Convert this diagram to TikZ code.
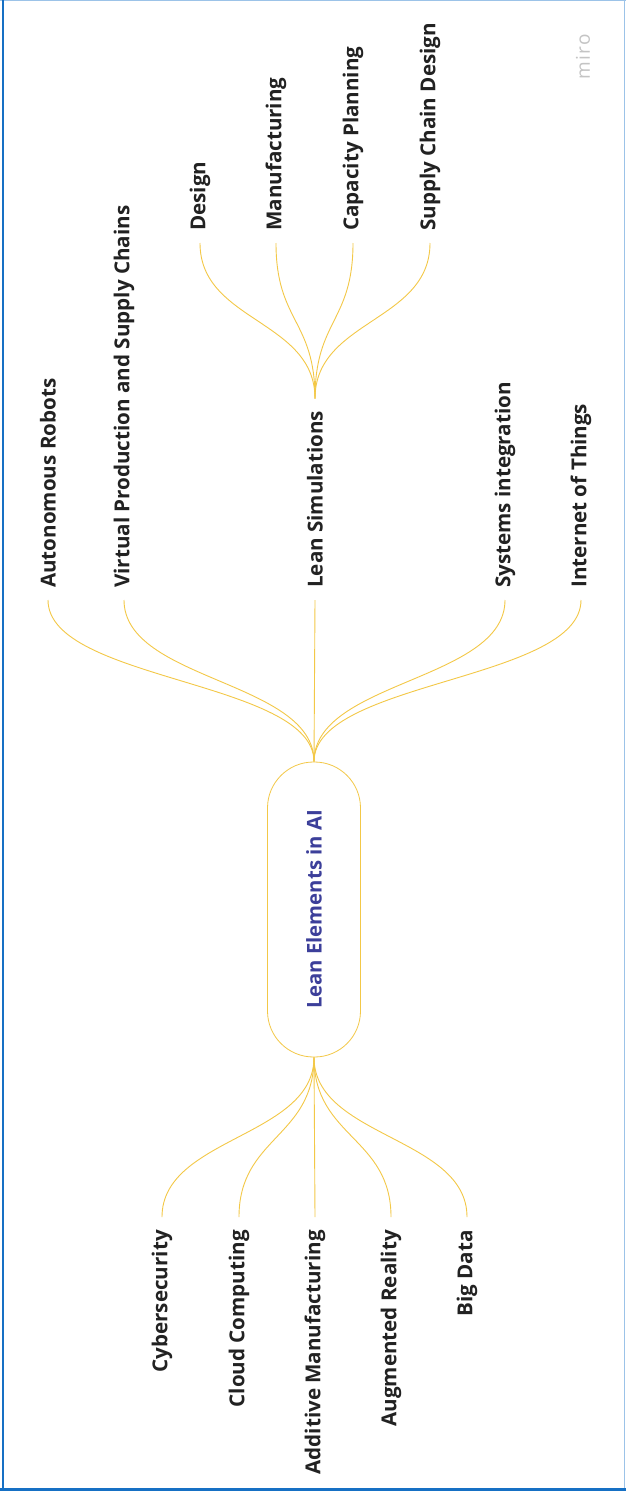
\documentclass[tikz,border=0pt]{standalone}
\usepackage{fontspec}
\setmainfont{Open Sans}
\definecolor{gold}{HTML}{F3C847}
\definecolor{rootblue}{HTML}{3C3F9A}
\definecolor{labelgray}{HTML}{222222}
\definecolor{wmgray}{HTML}{C4C4C4}
\definecolor{framedark}{HTML}{1670C4}
\definecolor{framelight}{HTML}{9CC3E8}
\tikzset{
  conn/.style={draw=gold, line width=0.9pt},
  leafup/.style={rotate=90, anchor=west, inner xsep=12pt, inner ysep=0pt,
    text=labelgray, font=\fontsize{20.6}{24}\selectfont\bfseries},
  leafdown/.style={rotate=90, anchor=east, inner xsep=13pt, inner ysep=0pt,
    text=labelgray, font=\fontsize{20.6}{24}\selectfont\bfseries},
  pill/.style={rotate=90, draw=gold, line width=0.8pt, minimum width=295pt,
    minimum height=93pt, rounded corners=46pt, text=rootblue,
    font=\fontsize{20.3}{24}\selectfont\bfseries, fill=white},
  watermark/.style={rotate=90, text=wmgray, font=\fontsize{19}{22}\selectfont\addfontfeatures{LetterSpace=8}}
}
\begin{document}
\begin{tikzpicture}[x=1pt,y=-1pt]
\useasboundingbox (0,0) rectangle (626,1491);
\fill[white] (0,0) rectangle (626,1491);
% frame
\draw[framelight, line width=1pt] (0,0.5) -- (626,0.5);
\draw[framelight, line width=1.5pt] (624.5,0) -- (624.5,1491);
\draw[framedark, line width=2.6pt] (3,0) -- (3,1491);
\draw[framedark, line width=3pt] (0,1489) -- (626,1489);

% root
\node[pill] (root) at (314,909.5) {Lean Elements in AI};

% top leaves
\node[leafup] (ar)  at (48,600)  {Autonomous Robots};
\node[leafup] (vp)  at (124,600) {Virtual Production and Supply Chains};
\node[leafup] (ls)  at (315,600) {Lean Simulations};
\node[leafup] (si)  at (505,600) {Systems integration};
\node[leafup] (iot) at (581,600) {Internet of Things};

% sub leaves
\node[leafup] (de) at (200,243) {Design};
\node[leafup] (ma) at (276,243) {Manufacturing};
\node[leafup] (cp) at (353,243) {Capacity Planning};
\node[leafup] (sc) at (430,243) {Supply Chain Design};

% bottom leaves
\node[leafdown] (cs) at (162,1217) {Cybersecurity};
\node[leafdown] (cc) at (239,1217) {Cloud Computing};
\node[leafdown] (am) at (315,1217) {Additive Manufacturing};
\node[leafdown] (aug) at (391,1217) {Augmented Reality};
\node[leafdown] (bd) at (467,1217) {Big Data};

% watermark
\node[watermark] (miro) at (583,57) {miro};

% connectors root -> top
\foreach \t in {ar,vp,si,iot}{
  \draw[conn] (root.east) .. controls +(0,-81) and +(0,81) .. (\t.west);
}
\draw[conn] (root.east) -- (ls.west);
% lean simulations -> sub
\foreach \t in {de,ma,cp,sc}{
  \draw[conn] (ls.east) .. controls +(0,-79) and +(0,79) .. (\t.west);
}
% root -> bottom
\foreach \t in {cs,cc,aug,bd}{
  \draw[conn] (root.west) .. controls +(0,80) and +(0,-80) .. (\t.east);
}
\draw[conn] (root.west) -- (am.east);
\end{tikzpicture}
\end{document}
